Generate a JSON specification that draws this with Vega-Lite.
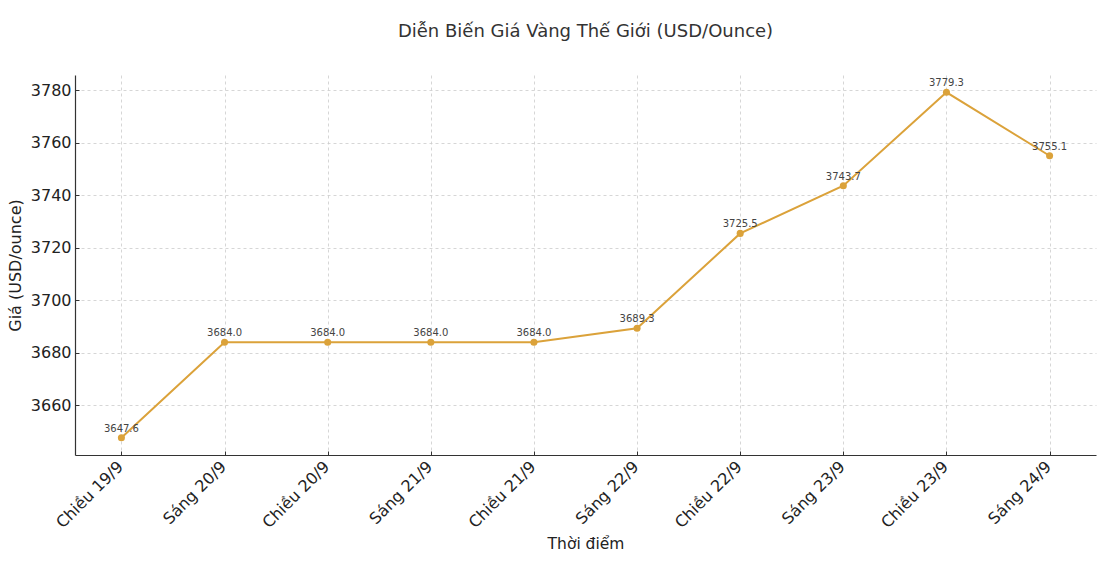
{
  "$schema": "https://vega.github.io/schema/vega-lite/v6.json",
  "autosize": {"type": "none"},
  "width": 1021,
  "height": 380,
  "padding": {"left": 75, "top": 75, "right": 6, "bottom": 115},
  "background": "white",
  "config": {
    "view": {"stroke": null},
    "font": "DejaVu Sans"
  },
  "title": {
    "text": "Diễn Biến Giá Vàng Thế Giới (USD/Ounce)",
    "font": "DejaVu Sans",
    "fontSize": 18,
    "fontWeight": "normal",
    "color": "#333333",
    "anchor": "middle",
    "offset": 34
  },
  "data": {
    "values": [
      {"thoi_diem": "Chiều 19/9", "gia": 3647.6},
      {"thoi_diem": "Sáng 20/9", "gia": 3684.0},
      {"thoi_diem": "Chiều 20/9", "gia": 3684.0},
      {"thoi_diem": "Sáng 21/9", "gia": 3684.0},
      {"thoi_diem": "Chiều 21/9", "gia": 3684.0},
      {"thoi_diem": "Sáng 22/9", "gia": 3689.3},
      {"thoi_diem": "Chiều 22/9", "gia": 3725.5},
      {"thoi_diem": "Sáng 23/9", "gia": 3743.7},
      {"thoi_diem": "Chiều 23/9", "gia": 3779.3},
      {"thoi_diem": "Sáng 24/9", "gia": 3755.1}
    ]
  },
  "encoding": {
    "x": {
      "field": "thoi_diem",
      "type": "ordinal",
      "sort": null,
      "scale": {"type": "point", "padding": 0.45},
      "axis": {
        "title": "Thời điểm",
        "titleFont": "DejaVu Sans",
        "titleFontSize": 15.5,
        "titleFontWeight": "normal",
        "titleColor": "#222222",
        "titlePadding": 6,
        "labelAngle": -45,
        "labelAlign": "right",
        "labelBaseline": "top",
        "labelFontSize": 16,
        "labelColor": "#222222",
        "labelPadding": 7,
        "labelOffset": -7,
        "tickSize": -4,
        "tickColor": "#333333",
        "domainColor": "#333333",
        "domainWidth": 1.2,
        "grid": true,
        "gridColor": "#cccccc",
        "gridDash": [3, 3],
        "gridWidth": 0.8
      }
    },
    "y": {
      "field": "gia",
      "type": "quantitative",
      "scale": {"domain": [3641.0, 3785.9], "nice": false, "zero": false},
      "axis": {
        "title": "Giá (USD/ounce)",
        "titleFont": "DejaVu Sans",
        "titleFontSize": 16,
        "titleFontWeight": "normal",
        "titleColor": "#222222",
        "titlePadding": 7,
        "values": [3660, 3680, 3700, 3720, 3740, 3760, 3780],
        "format": "d",
        "labelFontSize": 16,
        "labelColor": "#222222",
        "labelPadding": 8,
        "tickSize": -4,
        "tickColor": "#333333",
        "domainColor": "#333333",
        "domainWidth": 1.2,
        "grid": true,
        "gridColor": "#cccccc",
        "gridDash": [3, 3],
        "gridWidth": 0.8
      }
    }
  },
  "layer": [
    {
      "mark": {"type": "line", "color": "#DBA23A", "strokeWidth": 2},
      "encoding": {}
    },
    {
      "mark": {"type": "point", "filled": true, "color": "#DBA23A", "size": 50, "opacity": 1},
      "encoding": {}
    },
    {
      "mark": {"type": "text", "dy": -9, "fontSize": 10, "color": "#444444", "font": "DejaVu Sans"},
      "encoding": {
        "text": {"field": "gia", "type": "quantitative", "format": ".1f"}
      }
    }
  ]
}
